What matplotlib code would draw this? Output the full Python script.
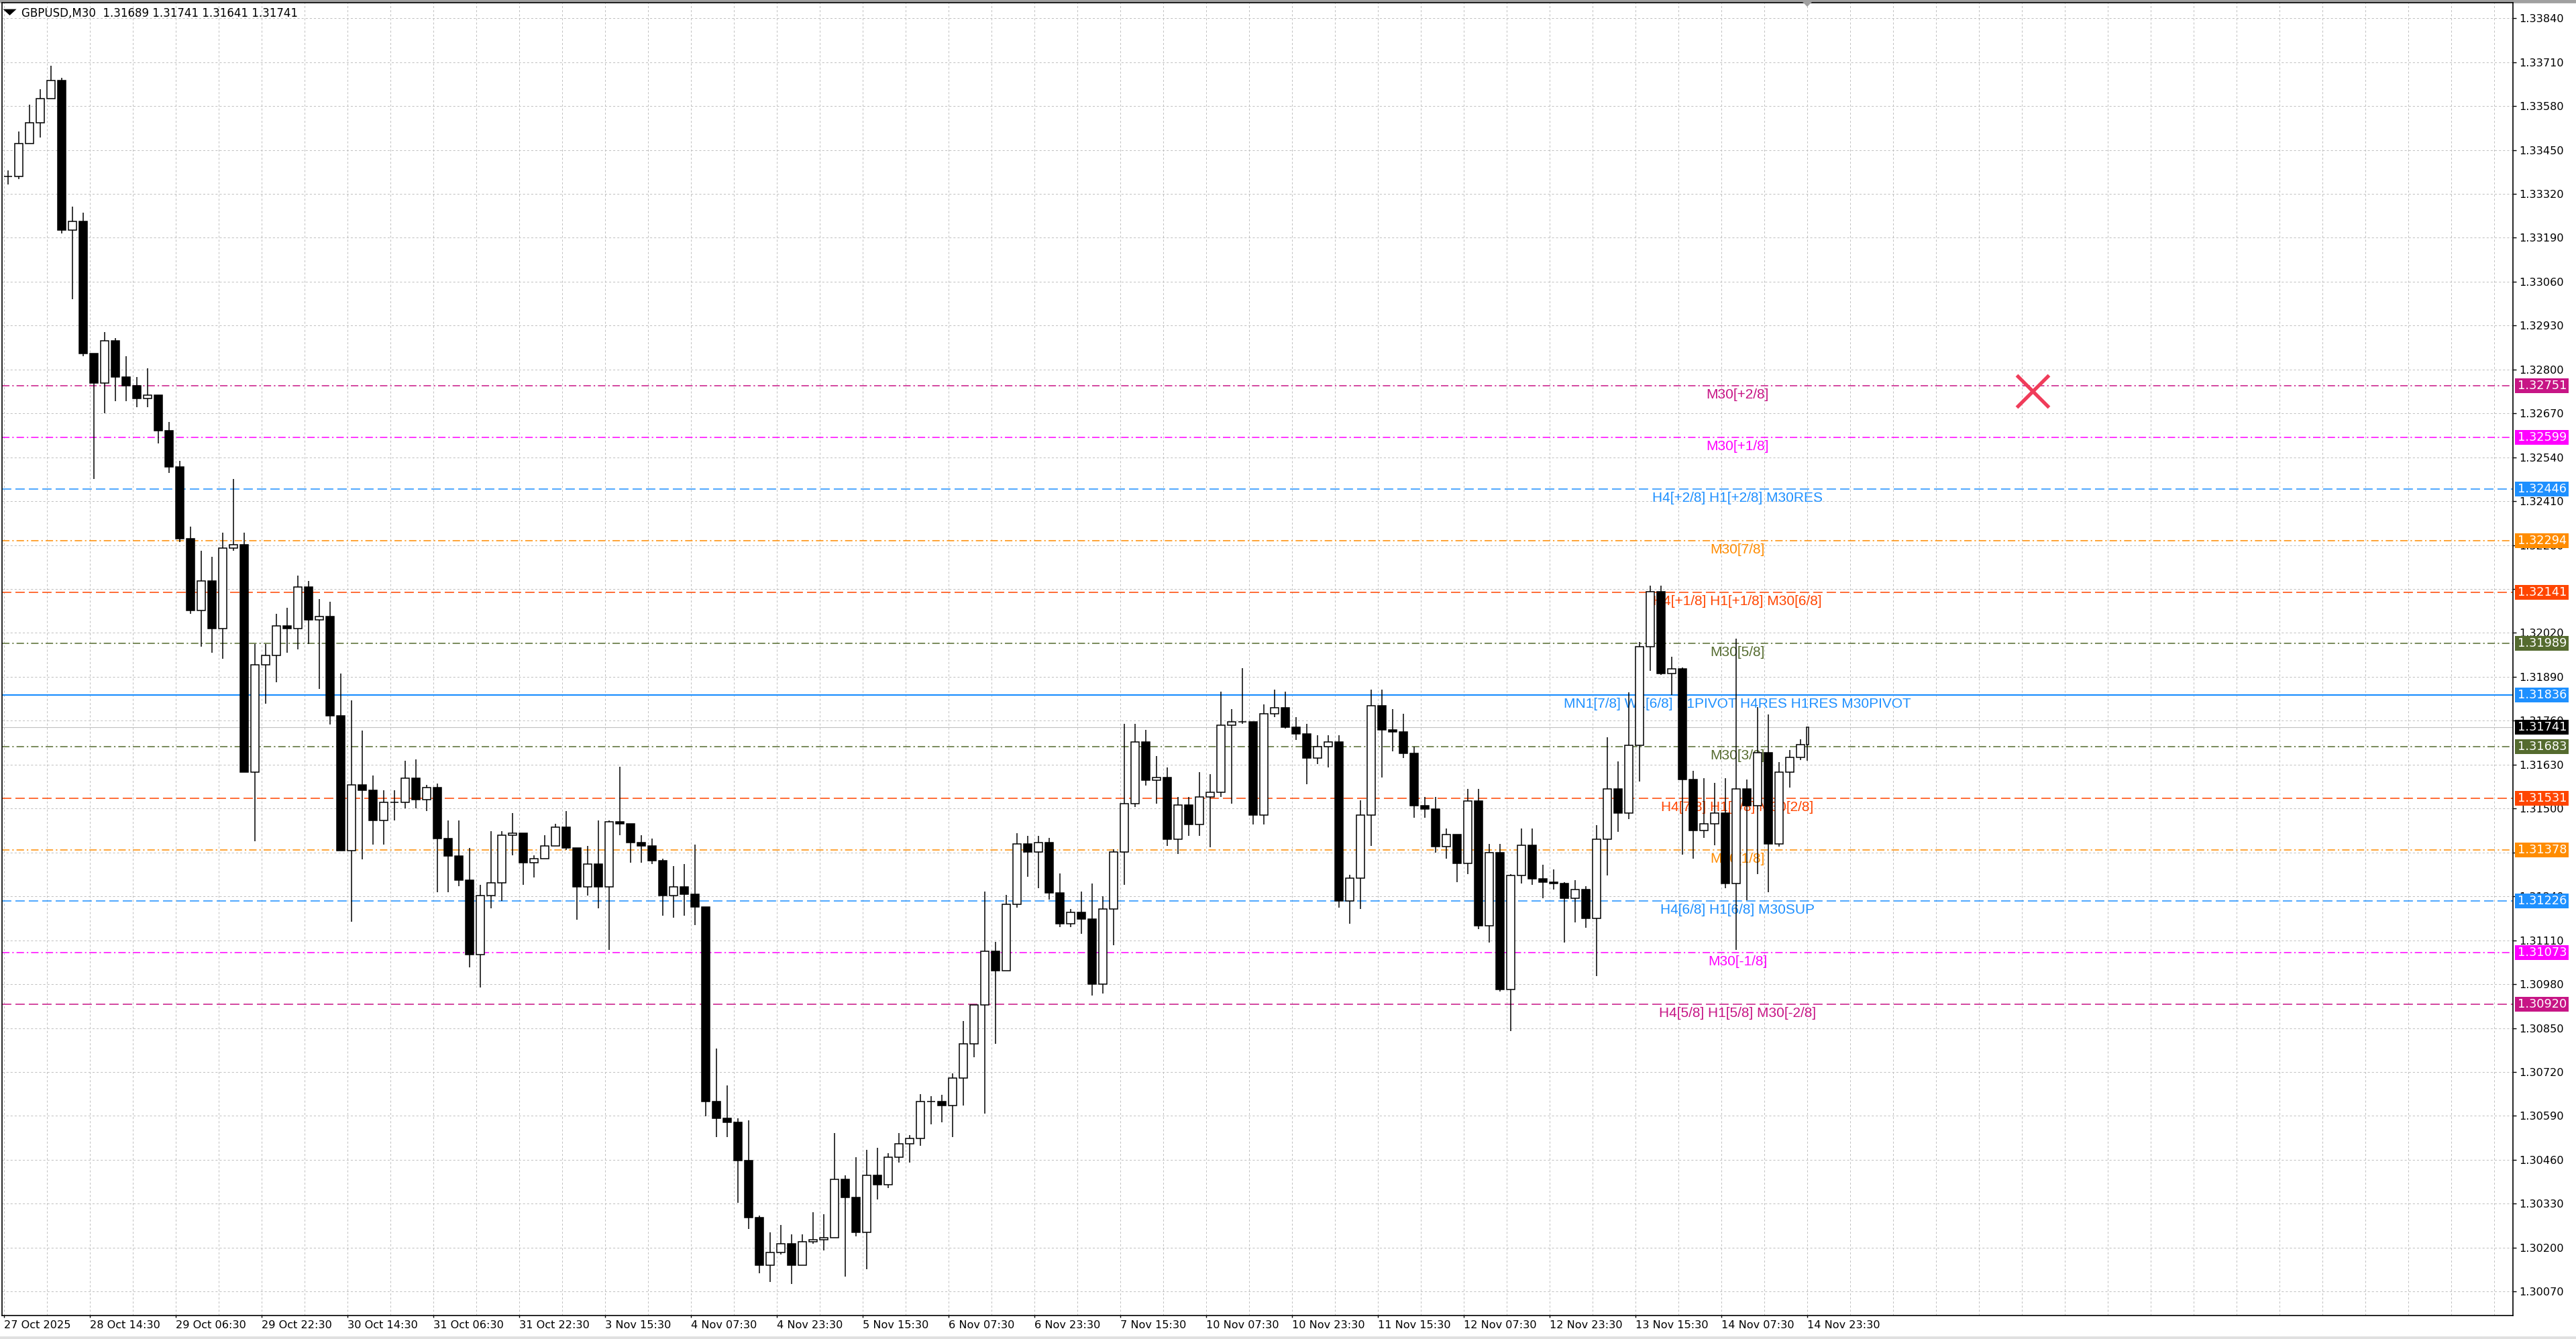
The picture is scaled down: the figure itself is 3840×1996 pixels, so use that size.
import numpy as np
import matplotlib.pyplot as plt
from matplotlib.patches import Rectangle, Polygon
from matplotlib.transforms import blended_transform_factory

plt.rcParams['lines.scale_dashes'] = False
plt.rcParams['font.family'] = ['DejaVu Sans']

W, H, DPI = 3840, 1996, 200

# GBPUSD candles, grouped by 4 M30 bars (last one is the live bar)
first_open = 1.33371
highs = [
    1.33389, 1.33504, 1.33584, 1.33629, 1.33700, 1.33664, 1.33283, 1.33265, 1.32848, 1.32910,
    1.32893, 1.32839, 1.32777, 1.32804, 1.32724, 1.32644, 1.32529, 1.32334, 1.32263, 1.32245,
    1.32316, 1.32476, 1.32316, 1.31988, 1.31988, 1.32077, 1.32095, 1.32189, 1.32174, 1.32121,
    1.32112, 1.31900, 1.31820, 1.31731, 1.31598, 1.31554, 1.31554, 1.31642, 1.31646, 1.31571,
    1.31575, 1.31465, 1.31465, 1.31384, 1.31275, 1.31433, 1.31433, 1.31487, 1.31427, 1.31362,
    1.31422, 1.31455, 1.31492, 1.31384, 1.31389, 1.31465, 1.31465, 1.31623, 1.31454, 1.31422,
    1.31411, 1.31351, 1.31329, 1.31335, 1.31394, 1.31209, 1.30790, 1.30681, 1.30583, 1.30577,
    1.30295, 1.30245, 1.30267, 1.30240, 1.30240, 1.30305, 1.30299, 1.30539, 1.30414, 1.30468,
    1.30490, 1.30496, 1.30479, 1.30539, 1.30534, 1.30654, 1.30648, 1.30653, 1.30716, 1.30870,
    1.30918, 1.31255, 1.31106, 1.31245, 1.31428, 1.31419, 1.31419, 1.31414, 1.31308, 1.31202,
    1.31255, 1.31279, 1.31241, 1.31380, 1.31751, 1.31751, 1.31732, 1.31655, 1.31621, 1.31534,
    1.31534, 1.31607, 1.31602, 1.31847, 1.31794, 1.31915, 1.31756, 1.31809, 1.31852, 1.31847,
    1.31770, 1.31751, 1.31717, 1.31717, 1.31717, 1.31303, 1.31525, 1.31852, 1.31852, 1.31794,
    1.31780, 1.31684, 1.31535, 1.31535, 1.31441, 1.31405, 1.31558, 1.31558, 1.31396, 1.31396,
    1.31306, 1.31441, 1.31441, 1.31333, 1.31319, 1.31283, 1.31288, 1.31270, 1.31450, 1.31711,
    1.31639, 1.31845, 1.31994, 1.32160, 1.32160, 1.31949, 1.31917, 1.31612, 1.31589, 1.31576,
    1.31589, 1.32003, 1.31585, 1.31800, 1.31778, 1.31638, 1.31674, 1.31705, 1.31741,
]
lows = [
    1.33348, 1.33363, 1.33473, 1.33487, 1.33620, 1.33203, 1.33008, 1.32839, 1.32476, 1.32671,
    1.32706, 1.32706, 1.32689, 1.32689, 1.32582, 1.32494, 1.32290, 1.32077, 1.31979, 1.31962,
    1.31944, 1.32263, 1.31607, 1.31403, 1.31811, 1.31873, 1.31962, 1.31971, 1.31988, 1.31855,
    1.31749, 1.31376, 1.31164, 1.31350, 1.31394, 1.31394, 1.31465, 1.31500, 1.31500, 1.31492,
    1.31252, 1.31252, 1.31270, 1.31029, 1.30970, 1.31204, 1.31226, 1.31362, 1.31275, 1.31296,
    1.31367, 1.31389, 1.31378, 1.31171, 1.31242, 1.31204, 1.31082, 1.31422, 1.31340, 1.31340,
    1.31335, 1.31182, 1.31177, 1.31182, 1.31155, 1.30588, 1.30528, 1.30528, 1.30332, 1.30256,
    1.30125, 1.30098, 1.30180, 1.30092, 1.30147, 1.30212, 1.30191, 1.30272, 1.30114, 1.30234,
    1.30136, 1.30343, 1.30376, 1.30452, 1.30452, 1.30501, 1.30566, 1.30572, 1.30528, 1.30620,
    1.30764, 1.30596, 1.30803, 1.31019, 1.31207, 1.31298, 1.31265, 1.31231, 1.31149, 1.31149,
    1.31130, 1.30947, 1.30952, 1.31096, 1.31274, 1.31505, 1.31568, 1.31515, 1.31390, 1.31366,
    1.31419, 1.31419, 1.31385, 1.31534, 1.31515, 1.31751, 1.31452, 1.31452, 1.31770, 1.31736,
    1.31703, 1.31573, 1.31631, 1.31621, 1.31207, 1.31159, 1.31202, 1.31390, 1.31592, 1.31669,
    1.31650, 1.31472, 1.31472, 1.31369, 1.31351, 1.31283, 1.31306, 1.31144, 1.31103, 1.30959,
    1.30842, 1.31279, 1.31274, 1.31234, 1.31261, 1.31103, 1.31162, 1.31148, 1.31004, 1.31301,
    1.31432, 1.31468, 1.31580, 1.31908, 1.31895, 1.31836, 1.31364, 1.31351, 1.31414, 1.31391,
    1.31265, 1.31081, 1.31229, 1.31306, 1.31252, 1.31387, 1.31562, 1.31643, 1.31641,
]
closes = [
    1.33371, 1.33469, 1.33531, 1.33602, 1.33655, 1.33212, 1.33238, 1.32848, 1.32760, 1.32884,
    1.32777, 1.32751, 1.32715, 1.32724, 1.32618, 1.32511, 1.32299, 1.32086, 1.32174, 1.32033,
    1.32272, 1.32281, 1.31607, 1.31926, 1.31953, 1.32041, 1.32033, 1.32157, 1.32059, 1.32068,
    1.31775, 1.31376, 1.31571, 1.31554, 1.31465, 1.31518, 1.31518, 1.31589, 1.31527, 1.31563,
    1.31412, 1.31359, 1.31288, 1.31068, 1.31242, 1.31280, 1.31422, 1.31427, 1.31340, 1.31351,
    1.31389, 1.31444, 1.31384, 1.31269, 1.31335, 1.31269, 1.31460, 1.31454, 1.31400, 1.31389,
    1.31345, 1.31242, 1.31269, 1.31247, 1.31209, 1.30632, 1.30583, 1.30572, 1.30457, 1.30289,
    1.30147, 1.30185, 1.30212, 1.30147, 1.30218, 1.30223, 1.30229, 1.30403, 1.30349, 1.30245,
    1.30414, 1.30387, 1.30468, 1.30507, 1.30523, 1.30632, 1.30632, 1.30620, 1.30702, 1.30803,
    1.30918, 1.31077, 1.31019, 1.31217, 1.31395, 1.31371, 1.31400, 1.31250, 1.31159, 1.31193,
    1.31173, 1.30981, 1.31202, 1.31371, 1.31515, 1.31698, 1.31583, 1.31592, 1.31409, 1.31510,
    1.31452, 1.31534, 1.31549, 1.31746, 1.31756, 1.31756, 1.31481, 1.31780, 1.31799, 1.31741,
    1.31722, 1.31650, 1.31684, 1.31698, 1.31226, 1.31294, 1.31481, 1.31804, 1.31732, 1.31727,
    1.31664, 1.31508, 1.31499, 1.31387, 1.31423, 1.31337, 1.31522, 1.31153, 1.31369, 1.30964,
    1.31301, 1.31391, 1.31292, 1.31283, 1.31279, 1.31234, 1.31261, 1.31175, 1.31409, 1.31558,
    1.31486, 1.31688, 1.31980, 1.32142, 1.31899, 1.31913, 1.31585, 1.31436, 1.31454, 1.31486,
    1.31279, 1.31558, 1.31508, 1.31666, 1.31396, 1.31607, 1.31652, 1.31689, 1.31741,
]
bars_per_candle = 4

x_labels = ['27 Oct 2025', '28 Oct 14:30', '29 Oct 06:30', '29 Oct 22:30', '30 Oct 14:30',
            '31 Oct 06:30', '31 Oct 22:30', '3 Nov 15:30', '4 Nov 07:30', '4 Nov 23:30',
            '5 Nov 15:30', '6 Nov 07:30', '6 Nov 23:30', '7 Nov 15:30', '10 Nov 07:30',
            '10 Nov 23:30', '11 Nov 15:30', '12 Nov 07:30', '12 Nov 23:30', '13 Nov 15:30',
            '14 Nov 07:30', '14 Nov 23:30']
label_step = 32  # M30 bars between time labels

y_ticks = [1.33840, 1.33710, 1.33580, 1.33450, 1.33320, 1.33190, 1.33060, 1.32930, 1.32800,
           1.32670, 1.32540, 1.32410, 1.32280, 1.32150, 1.32020, 1.31890, 1.31760, 1.31630,
           1.31500, 1.31370, 1.31240, 1.31110, 1.30980, 1.30850, 1.30720, 1.30590, 1.30460,
           1.30330, 1.30200, 1.30070]

level_prices = [1.32751, 1.32599, 1.32446, 1.32294, 1.32141, 1.31989, 1.31836,
                1.31683, 1.31531, 1.31378, 1.31226, 1.31073, 1.30920]
level_names = ['M30[+2/8]', 'M30[+1/8]', 'H4[+2/8] H1[+2/8] M30RES', 'M30[7/8]',
               'H4[+1/8] H1[+1/8] M30[6/8]', 'M30[5/8]',
               'MN1[7/8] W1[6/8] D1PIVOT H4RES H1RES M30PIVOT', 'M30[3/8]',
               'H4[7/8] H1[7/8] M30[2/8]', 'M30[1/8]', 'H4[6/8] H1[6/8] M30SUP',
               'M30[-1/8]', 'H4[5/8] H1[5/8] M30[-2/8]']
level_colors = ['#C71585', '#FF00FF', '#1E90FF', '#FF8C00', '#FF4500', '#556B2F', '#1E90FF',
                '#556B2F', '#FF4500', '#FF8C00', '#1E90FF', '#FF00FF', '#C71585']
level_styles = ['dashdot', 'dashdot', 'dashed', 'dashdot', 'dashed', 'dashdot', 'solid',
                'dashdot', 'dashed', 'dashdot', 'dashed', 'dashdot', 'dashed']
label_bar = 646

current_price = 1.31741
title = 'GBPUSD,M30  1.31689 1.31741 1.31641 1.31741'
cross_bar, cross_price = 756, 1.32736

# ---------------------------------------------------------------
fig = plt.figure(figsize=(W / DPI, H / DPI), dpi=DPI)
ax = fig.add_axes([3 / W, 35 / H, 3743 / W, 1957 / H])
ax.set_xlim(-0.75, 935)
ax.set_ylim(1.29999, 1.33886)
py = (1.33886 - 1.29999) / 1957  # price per pixel

grid_kw = dict(color='#C0C0C0', lw=0.36, ls=(0, (1.1, 1.1)), zorder=0)
for b in range(0, 935, 16):
    ax.axvline(b, **grid_kw)
for t in y_ticks:
    ax.axhline(t, **grid_kw)

ax.axhline(current_price, color='#C0C0C0', lw=0.4, zorder=1)

styles = {'dashed': (0, (5, 2.2)), 'dashdot': (0, (4, 1.5, 0.8, 1.5)), 'solid': '-'}
for p, name, col, st in zip(level_prices, level_names, level_colors, level_styles):
    ax.axhline(p, color=col, lw=0.8 if st == 'solid' else 0.55, ls=styles[st], zorder=2)
    ax.text(label_bar, p - 19 * py, name, color=col, ha='center', va='baseline',
            fontsize=7.5, family=['Liberation Sans', 'DejaVu Sans'], zorder=2.5)

# candles
o = np.array([first_open] + closes[:-1])
c = np.array(closes)
hi = np.maximum(np.array(highs), np.maximum(o, c))
lo = np.minimum(np.array(lows), np.minimum(o, c))
n = len(c)
xs = np.arange(n) * bars_per_candle + 1.5
xs[-1] = bars_per_candle * (n - 1)
widths = np.full(n, 2.9)
widths[-1] = 0.75
up = c >= o
ax.vlines(xs, lo, hi, color='black', lw=0.55, zorder=3)
ax.bar(xs[up], (c - o)[up], bottom=o[up], width=widths[up], facecolor='white',
       edgecolor='black', lw=0.55, zorder=4)
ax.bar(xs[~up], (o - c)[~up], bottom=c[~up], width=widths[~up], facecolor='black',
       edgecolor='black', lw=0.55, zorder=4)

ax.plot([cross_bar], [cross_price], marker='x', ms=17, mew=1.9, color='#F03C5A', zorder=6)

# axes styling
for s in ax.spines.values():
    s.set_linewidth(0.6)
    s.set_color('black')
ax.yaxis.set_ticks_position('right')
ax.set_yticks(y_ticks)
ax.set_yticklabels([f'{t:.5f}' for t in y_ticks])
ax.set_xticks(range(0, label_step * len(x_labels), label_step))
ax.set_xticklabels(x_labels, ha='left')
ax.tick_params(axis='y', direction='out', length=1.8, width=0.5, pad=1.4, labelsize=5.8)
ax.tick_params(axis='x', direction='out', length=1.1, width=0.5, pad=1.4, labelsize=5.8)

# price tags on the right scale
trans = blended_transform_factory(fig.transFigure, ax.transData)
tags = list(zip(level_prices, level_colors)) + [(current_price, 'black')]
for p, col in tags:
    ax.add_patch(Rectangle((3749 / W, p - 11 * py), 80 / W, 22 * py, transform=trans,
                           facecolor=col, edgecolor='none', clip_on=False, zorder=6))
    ax.text(3753 / W, p, f'{p:.5f}', transform=trans, color='white', fontsize=6.4,
            va='center', ha='left', clip_on=False, zorder=7)

# title and window bits
fig.text(32 / W, 1 - 20 / H, title, fontsize=6, va='center', ha='left')
fig.add_artist(Polygon([(8 / W, 1 - 15 / H), (21 / W, 1 - 15 / H), (14.5 / W, 1 - 21 / H)],
                       closed=True, transform=fig.transFigure, color='black'))
fig.add_artist(Rectangle((0, 1 - 3 / H), 1, 3 / H, transform=fig.transFigure,
                         color='#A0A0A0', zorder=0))
fig.add_artist(Polygon([(2686 / W, 1), (2702 / W, 1), (2694 / W, 1 - 8 / H)],
                       closed=True, transform=fig.transFigure, color='#A0A0A0'))
fig.add_artist(Rectangle((0, 0), 1, 3 / H, transform=fig.transFigure,
                         color='#E0E0E0', zorder=0))

fig.savefig('out.png', dpi=DPI)
